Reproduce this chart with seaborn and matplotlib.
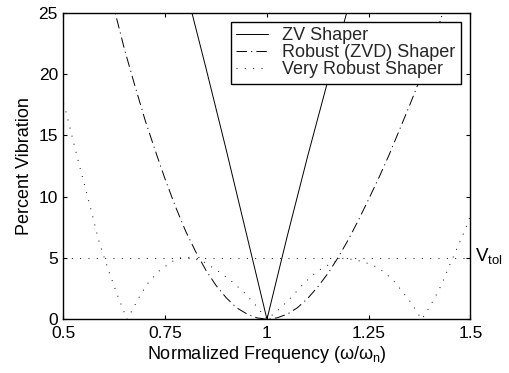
import matplotlib
matplotlib.use("Agg")
import matplotlib.pyplot as plt
import seaborn as sns
import pandas as pd
from matplotlib.lines import Line2D

# ---- data ----
zv_x = [0.80, 0.8155, 0.85, 0.90, 0.95, 1.0, 1.05, 1.10, 1.15, 1.196, 1.21]
zv_y = [27.0, 25.0, 20.5, 13.8, 6.9, 0.0, 6.8, 13.3, 19.5, 25.0, 26.6]

zvd_x = [0.61, 0.627, 0.65, 0.675, 0.70, 0.725, 0.75, 0.775, 0.80, 0.825, 0.85, 0.875, 0.90,
         0.925, 0.95, 0.975, 1.0, 1.025, 1.05, 1.075, 1.10, 1.125, 1.15, 1.175, 1.20, 1.225,
         1.25, 1.275, 1.30, 1.325, 1.35, 1.375, 1.40, 1.432, 1.45]
zvd_y = [27.5, 25.0, 22.0, 19.1, 16.3, 13.8, 11.4, 9.2, 7.2, 5.5, 4.0, 2.75, 1.75,
         0.95, 0.45, 0.12, 0.0, 0.12, 0.42, 0.95, 1.7, 2.65, 3.75, 5.05, 6.5, 8.1,
         9.8, 11.55, 13.4, 15.4, 17.4, 19.5, 21.6, 25.0, 26.5]

ei_x = [0.50, 0.504, 0.525, 0.541, 0.5656, 0.58, 0.586, 0.598, 0.6106, 0.631, 0.647, 0.656,
        0.6656, 0.684, 0.7064, 0.7334, 0.766, 0.787, 0.81, 0.844, 0.881, 0.9096, 0.942,
        0.971, 1.0, 1.028, 1.057, 1.0897, 1.1226, 1.1597, 1.19, 1.237, 1.274, 1.307,
        1.333, 1.3575, 1.368, 1.3806, 1.391, 1.4115, 1.43, 1.446, 1.462, 1.479, 1.487,
        1.495, 1.50]
ei_y = [17.6, 17.2, 14.4, 12.3, 9.2, 7.3, 6.5, 5.25, 4.0, 2.1, 0.76, 0.0,
        0.54, 1.7, 2.9, 3.9, 4.7, 5.0, 5.05, 4.7, 3.9, 3.2, 2.25,
        1.2, 0.0, 0.76, 1.7, 2.9, 3.9, 4.6, 5.0, 4.7, 4.2, 3.3,
        2.25, 1.2, 0.6, 0.0, 0.54, 1.7, 2.9, 4.2, 5.4, 6.7, 7.3,
        8.0, 8.5]

VTOL = 5
series_names = ["ZV Shaper", "Robust (ZVD) Shaper", "Very Robust Shaper"]
x_ticks = [0.5, 0.75, 1.0, 1.25, 1.5]
x_tick_labels = ["0.5", "0.75", "1", "1.25", "1.5"]
y_ticks = [0, 5, 10, 15, 20, 25]

# ---- style ----
sns.set_theme(style="ticks")
plt.rcParams["font.family"] = ["Liberation Sans", "DejaVu Sans"]
plt.rcParams["mathtext.fontset"] = "custom"
plt.rcParams["mathtext.rm"] = "Liberation Sans"
plt.rcParams["mathtext.it"] = "Liberation Sans"
plt.rcParams["mathtext.default"] = "regular"
plt.rcParams["lines.scale_dashes"] = False

fig = plt.figure(figsize=(5.09, 3.73), dpi=100)
ax = fig.add_axes([0.1247, 0.144, 0.7996, 0.822])

df = pd.concat([
    pd.DataFrame({"x": zv_x, "y": zv_y, "s": series_names[0]}),
    pd.DataFrame({"x": zvd_x, "y": zvd_y, "s": series_names[1]}),
    pd.DataFrame({"x": ei_x, "y": ei_y, "s": series_names[2]}),
])

styles = {
    series_names[0]: "-",
    series_names[1]: (0, (7.5, 3.0, 0.8, 3.0)),
    series_names[2]: (0, (0.7, 5.3)),
}
lw = 0.7
for name in series_names:
    sub = df[df["s"] == name]
    sns.lineplot(data=sub, x="x", y="y", ax=ax, color="black", linewidth=lw,
                 linestyle=styles[name], sort=False, estimator=None, legend=False)

ax.axhline(VTOL, color="black", linewidth=lw, linestyle=styles[series_names[2]])

ax.set_xlim(0.5, 1.5)
ax.set_ylim(0, 25)
ax.set_xticks(x_ticks)
ax.set_xticklabels(x_tick_labels)
ax.set_yticks(y_ticks)
ax.tick_params(direction="in", length=3, width=0.8, top=True, right=True,
               labelsize=12.5, colors="black")
ax.tick_params(axis="x", pad=5)
ax.tick_params(axis="y", pad=4)
for sp in ax.spines.values():
    sp.set_visible(True)
    sp.set_linewidth(1.0)
    sp.set_color("black")

ax.set_xlabel("Normalized Frequency (ω/ω$_{n}$)", fontsize=13, color="black", labelpad=2)
ax.set_ylabel("Percent Vibration", fontsize=13, color="black", labelpad=4)

ax.text(1.0 + 0.011, VTOL - 0.28, r"$V_{tol}$", transform=ax.get_yaxis_transform(),
        fontsize=13.5, va="baseline", ha="left", color="black")

handles = [Line2D([0], [0], color="black", linewidth=lw, linestyle=styles[n]) for n in series_names]
leg = ax.legend(handles, series_names, loc="upper right", fontsize=13, frameon=True,
                fancybox=False, edgecolor="black", framealpha=1, borderaxespad=0.52,
                handlelength=1.75, handletextpad=0.8, borderpad=0.3, labelspacing=0.0)
leg.get_frame().set_linewidth(1.0)

fig.savefig("out.png", dpi=100, facecolor="white")
